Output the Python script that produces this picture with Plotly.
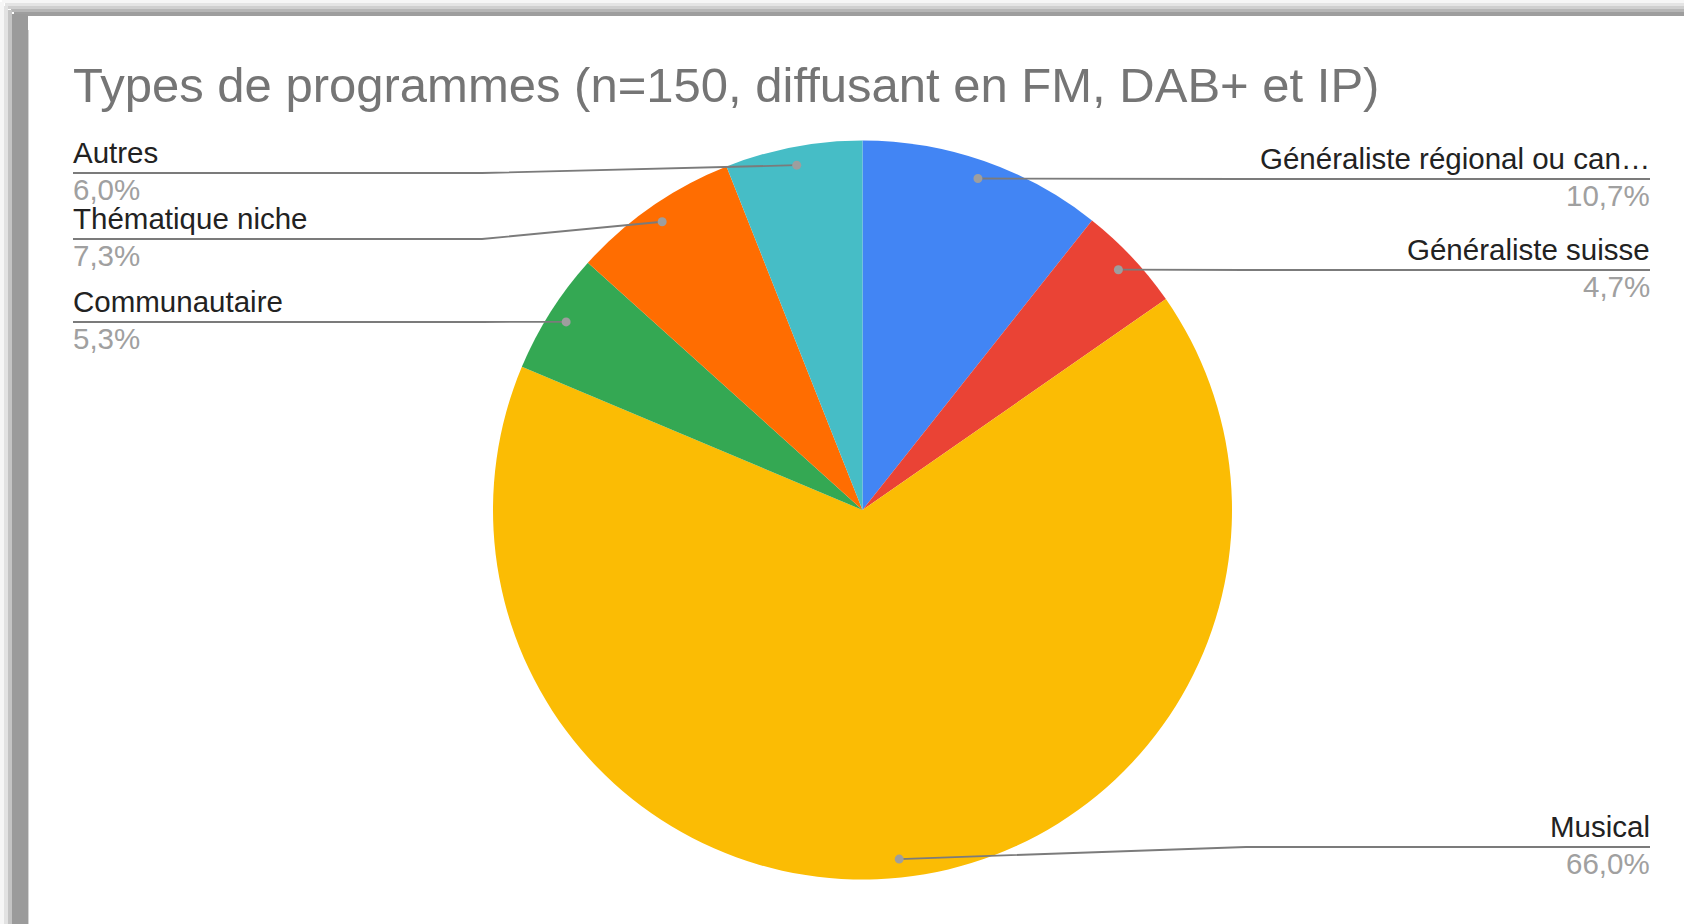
import math
import plotly.graph_objects as go

# ---------------- data ----------------
categories = ["Généraliste régional ou cantonal", "Généraliste suisse", "Musical",
              "Communautaire", "Thématique niche", "Autres"]
display_labels = ["Généraliste régional ou can…", "Généraliste suisse", "Musical",
                  "Communautaire", "Thématique niche", "Autres"]
counts = [16, 7, 99, 8, 11, 9]          # n = 150
colors = ["#4285F4", "#EA4335", "#FBBC04", "#34A853", "#FF6D01", "#46BDC6"]
title_text = "Types de programmes (n=150, diffusant en FM, DAB+ et IP)"

# ---------------- layout constants (pixels) ----------------
W, H = 1684, 924
CX, CY, R = 862.5, 510.0, 369.5
label_side = ["right", "right", "right", "left", "left", "left"]
label_line_y = [179, 270, 847, 322, 239, 173]
LEFT_X, RIGHT_X = 73, 1650
LEFT_BEND, RIGHT_BEND = 482, 1246
DOT_FRAC = 0.95
FONT = "Liberation Sans, Arial, sans-serif"
LBL_FS = 29.5
TITLE_FS = 49

total = sum(counts)
pcts = [c / total * 100 for c in counts]

fig = go.Figure()

fig.add_trace(go.Pie(
    labels=categories, values=counts, sort=False, direction="clockwise", rotation=0,
    marker=dict(colors=colors, line=dict(width=0)),
    textinfo="none", hoverinfo="skip", showlegend=False,
    domain=dict(x=[(CX - R) / W, (CX + R) / W], y=[1 - (CY + R) / H, 1 - (CY - R) / H]),
))

# dot positions from data (mid-angle of each slice)
dots_x, dots_y = [], []
cum = 0
for c in counts:
    mid = (cum + c / 2) / total * 2 * math.pi
    cum += c
    dots_x.append(CX + DOT_FRAC * R * math.sin(mid))
    dots_y.append(CY - DOT_FRAC * R * math.cos(mid))

# invisible scatter to instantiate the pixel axes
fig.add_trace(go.Scatter(x=dots_x, y=dots_y, mode="markers", marker=dict(size=1, opacity=0),
                         hoverinfo="skip", showlegend=False))

shapes = []
# screenshot frame (top and left grey borders with soft shadow)
for (y0, y1, col) in [(0, 3, "#f6f6f6"), (3, 6, "#e4e4e4"), (6, 9, "#cfcfcf"),
                      (9, 12, "#b6b6b6"), (12, 16, "#9e9e9e")]:
    shapes.append(dict(type="rect", xref="x", yref="y", x0=max(0, y0 + 2), x1=W, y0=y0, y1=y1,
                       fillcolor=col, line=dict(width=0), layer="below"))
for (x0, x1, col) in [(0, 4, "#f6f6f6"), (4, 8, "#e2e2e2"), (8, 12, "#c4c4c4"),
                      (12, 28, "#9b9b9b"), (28, 29, "#d4d4d4")]:
    shapes.append(dict(type="rect", xref="x", yref="y", x0=x0, x1=x1, y0=max(0, x0 + 2), y1=H,
                       fillcolor=col, line=dict(width=0), layer="below"))

annotations = []
def text_at(x, baseline, txt, fs, color, anchor):
    annotations.append(dict(xref="x", yref="y", x=x, y=baseline - 0.905 * fs,
                            yanchor="top", xanchor=anchor, text=txt, showarrow=False,
                            borderpad=0, borderwidth=0,
                            font=dict(family=FONT, size=fs, color=color)))

text_at(73, 102, title_text, TITLE_FS, "#757575", "left")

for i in range(len(counts)):
    ly = label_line_y[i]
    dx, dy = dots_x[i], dots_y[i]
    if label_side[i] == "left":
        ex, bend, anchor = LEFT_X, LEFT_BEND, "left"
        bend = min(bend, dx)
    else:
        ex, bend, anchor = RIGHT_X, RIGHT_BEND, "right"
        bend = max(bend, dx)
    path = f"M {ex},{ly} L {bend},{ly} L {dx},{dy}"
    shapes.append(dict(type="path", xref="x", yref="y", path=path,
                       line=dict(color="#7b7b7b", width=1.8), layer="above"))
    shapes.append(dict(type="circle", xref="x", yref="y", x0=dx - 4.5, x1=dx + 4.5,
                       y0=dy - 4.5, y1=dy + 4.5, fillcolor="#9e9e9e",
                       line=dict(width=0), layer="above"))
    text_at(ex, ly - 10, display_labels[i], LBL_FS, "#222222", anchor)
    pct_txt = f"{pcts[i]:.1f}".replace(".", ",") + "%"
    text_at(ex, ly + 27, pct_txt, LBL_FS, "#a0a0a0", anchor)

fig.update_layout(
    width=W, height=H, autosize=False,
    margin=dict(l=0, r=0, t=0, b=0, pad=0),
    paper_bgcolor="white", plot_bgcolor="white",
    xaxis=dict(range=[0, W], visible=False, fixedrange=True, domain=[0, 1]),
    yaxis=dict(range=[H, 0], visible=False, fixedrange=True, domain=[0, 1]),
    shapes=shapes, annotations=annotations, showlegend=False,
)

fig.write_html("out.html", config={"displayModeBar": False},
               post_script="document.body.style.margin='0';document.body.style.overflow='hidden';")
